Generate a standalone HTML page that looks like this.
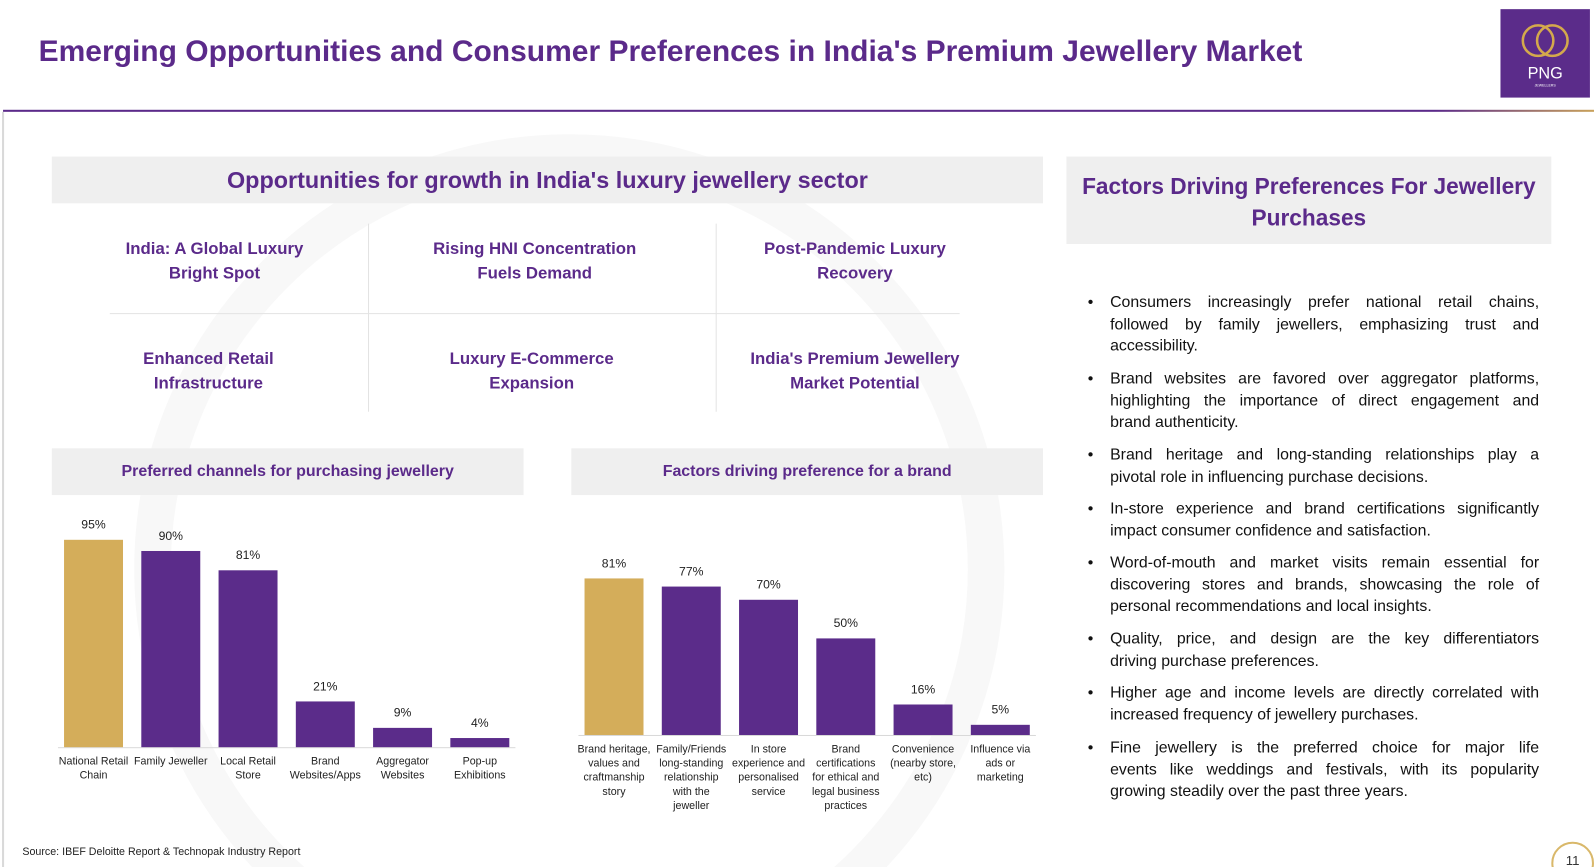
<!DOCTYPE html>
<html><head><meta charset="utf-8"><style>
html,body{margin:0;padding:0;background:#fff;overflow:hidden;width:1594px;height:867px}
#w{position:absolute;left:0;top:0;width:1568px;height:853px;overflow:hidden;transform:scale(1.01658);transform-origin:0 0;font-family:"Liberation Sans",sans-serif}
.a{position:absolute}
.cell{position:absolute;text-align:center;font-weight:bold;color:#5b2a8a;font-size:16.5px;line-height:24px}
.bul{position:absolute;left:1092px;width:422px;font-size:15.6px;line-height:21.6px;color:#111}
.bul div{text-align:justify;text-align-last:justify;white-space:nowrap}
.bul div.l{text-align-last:left}
.bul:before{content:"•";position:absolute;left:-22px;top:0}
.lab{position:absolute;font-size:10.5px;line-height:14px;text-align:center;color:#222;width:80px}
.val{position:absolute;font-size:12px;text-align:center;color:#222;width:58px}
</style></head><body>
<div id="w">
<svg class="a" style="left:0;top:0" width="1568" height="853">
<circle cx="560" cy="560" r="410" fill="none" stroke="#f8f8f8" stroke-width="36"/>
<line x1="3" y1="110" x2="3" y2="853" stroke="#d9d9d9" stroke-width="2"/>
</svg>
<div class="a" style="left:38px;top:34px;font-size:29.5px;font-weight:bold;color:#5b2a8a">Emerging Opportunities and Consumer Preferences in India's Premium Jewellery Market</div>
<div class="a" style="left:3px;top:108px;width:1565px;height:2px;background:linear-gradient(90deg,#5b2a8a 0,#5b2a8a 90%,#c9a25a 100%)"></div>
<div class="a" style="left:1476px;top:9px;width:88px;height:87px;background:#5b2c8a">
<svg width="88" height="87"><circle cx="37" cy="31" r="15" fill="none" stroke="#d4a94c" stroke-width="2.5"/><circle cx="51" cy="31" r="15" fill="none" stroke="#d4a94c" stroke-width="2.5"/>
<text x="44" y="68" fill="#fff" font-size="16" text-anchor="middle" font-family="Liberation Sans">PNG</text><text x="44" y="76" fill="#fff" font-size="3.5" text-anchor="middle" font-family="Liberation Sans">JEWELLERS</text></svg></div>

<div class="a" style="left:51px;top:154px;width:975px;height:46px;background:#efefef;text-align:center;line-height:46px;font-size:23px;font-weight:bold;color:#5b2a8a">Opportunities for growth in India's luxury jewellery sector</div>
<div class="a" style="left:362px;top:220px;width:1px;height:185px;background:#e3e3e3"></div>
<div class="a" style="left:704px;top:220px;width:1px;height:185px;background:#e3e3e3"></div>
<div class="a" style="left:108px;top:308px;width:836px;height:1px;background:#e3e3e3"></div>
<div class="cell" style="left:80px;top:233px;width:262px">India: A Global Luxury<br>Bright Spot</div>
<div class="cell" style="left:380px;top:233px;width:292px">Rising HNI Concentration<br>Fuels Demand</div>
<div class="cell" style="left:710px;top:233px;width:262px">Post-Pandemic Luxury<br>Recovery</div>
<div class="cell" style="left:74px;top:341px;width:262px">Enhanced Retail<br>Infrastructure</div>
<div class="cell" style="left:392px;top:341px;width:262px">Luxury E-Commerce<br>Expansion</div>
<div class="cell" style="left:700px;top:341px;width:282px">India's Premium Jewellery<br>Market Potential</div>

<div class="a" style="left:1049px;top:154px;width:477px;height:86px;background:#efefef;text-align:center;font-size:22.3px;font-weight:bold;color:#5b2a8a;line-height:31px;padding-top:14px;box-sizing:border-box">Factors Driving Preferences For Jewellery<br>Purchases</div>

<div class="bul" style="top:287px"><div>Consumers increasingly prefer national retail chains,</div><div>followed by family jewellers, emphasizing trust and</div><div class="l">accessibility.</div></div>
<div class="bul" style="top:362px"><div>Brand websites are favored over aggregator platforms,</div><div>highlighting the importance of direct engagement and</div><div class="l">brand authenticity.</div></div>
<div class="bul" style="top:437px"><div>Brand heritage and long-standing relationships play a</div><div class="l">pivotal role in influencing purchase decisions.</div></div>
<div class="bul" style="top:490px"><div>In-store experience and brand certifications significantly</div><div class="l">impact consumer confidence and satisfaction.</div></div>
<div class="bul" style="top:543px"><div>Word-of-mouth and market visits remain essential for</div><div>discovering stores and brands, showcasing the role of</div><div class="l">personal recommendations and local insights.</div></div>
<div class="bul" style="top:618px"><div>Quality, price, and design are the key differentiators</div><div class="l">driving purchase preferences.</div></div>
<div class="bul" style="top:671px"><div>Higher age and income levels are directly correlated with</div><div class="l">increased frequency of jewellery purchases.</div></div>
<div class="bul" style="top:725px"><div>Fine jewellery is the preferred choice for major life</div><div>events like weddings and festivals, with its popularity</div><div class="l">growing steadily over the past three years.</div></div>

<div class="a" style="left:51px;top:441px;width:464px;height:46px;background:#efefef;text-align:center;line-height:46px;font-size:15.7px;font-weight:bold;color:#5b2a8a">Preferred channels for purchasing jewellery</div>
<div class="a" style="left:562px;top:441px;width:464px;height:46px;background:#efefef;text-align:center;line-height:46px;font-size:15.7px;font-weight:bold;color:#5b2a8a">Factors driving preference for a brand</div>
<div id="c1"></div>
<div id="c2"></div>

<div class="a" style="left:22px;top:832px;font-size:10.5px;color:#222">Source: IBEF Deloitte Report &amp; Technopak Industry Report</div>
<div class="a" style="left:1526px;top:828px;width:38px;height:38px;border:2px solid #d9b86a;border-radius:50%;text-align:center;font-size:13px;line-height:34px;color:#333">11</div>
</div>
<script>
const channelCats=["National Retail|Chain","Family Jeweller","Local Retail|Store","Brand|Websites/Apps","Aggregator|Websites","Pop-up|Exhibitions"];
const channelVals=[95,90,81,21,9,4];
const factorCats=["Brand heritage,|values and|craftmanship|story","Family/Friends|long-standing|relationship|with the|jeweller","In store|experience and|personalised|service","Brand|certifications|for ethical and|legal business|practices","Convenience|(nearby store,|etc)","Influence via|ads or|marketing"];
const factorVals=[81,77,70,50,16,5];
function draw(host,cats,vals,x0,base,pxPer,lineW,prefix){
  const el=document.getElementById(host);
  const ax=document.createElement('div');ax.className='a';
  
  
  ax.style.cssText=`left:${x0-6}px;top:${base}px;width:${lineW}px;height:1px;background:#d9d9d9`;el.appendChild(ax);
  vals.forEach((v,i)=>{
    const x=x0+i*76,h=v*pxPer;
    const b=document.createElement('div');b.className='a';
    
    
    b.style.cssText=`left:${x}px;top:${base-h}px;width:58px;height:${h}px;background:${i==0?'#d4ad5a':'#5b2c8a'}`;el.appendChild(b);
    const t=document.createElement('div');t.className='val';
    
    
    t.style.left=x+'px';t.style.top=(base-h-22)+'px';t.textContent=v+'%';el.appendChild(t);
    const l=document.createElement('div');l.className='lab';
    
    
    l.style.left=(x-11)+'px';l.style.top=(base+7)+'px';l.innerHTML=cats[i].split('|').join('<br>');el.appendChild(l);
  });
}
draw('c1',channelCats,channelVals,63,735,204/95,450,'channel');
draw('c2',factorCats,factorVals,575,723,154/81,450,'factor');
</script>
</body></html>
